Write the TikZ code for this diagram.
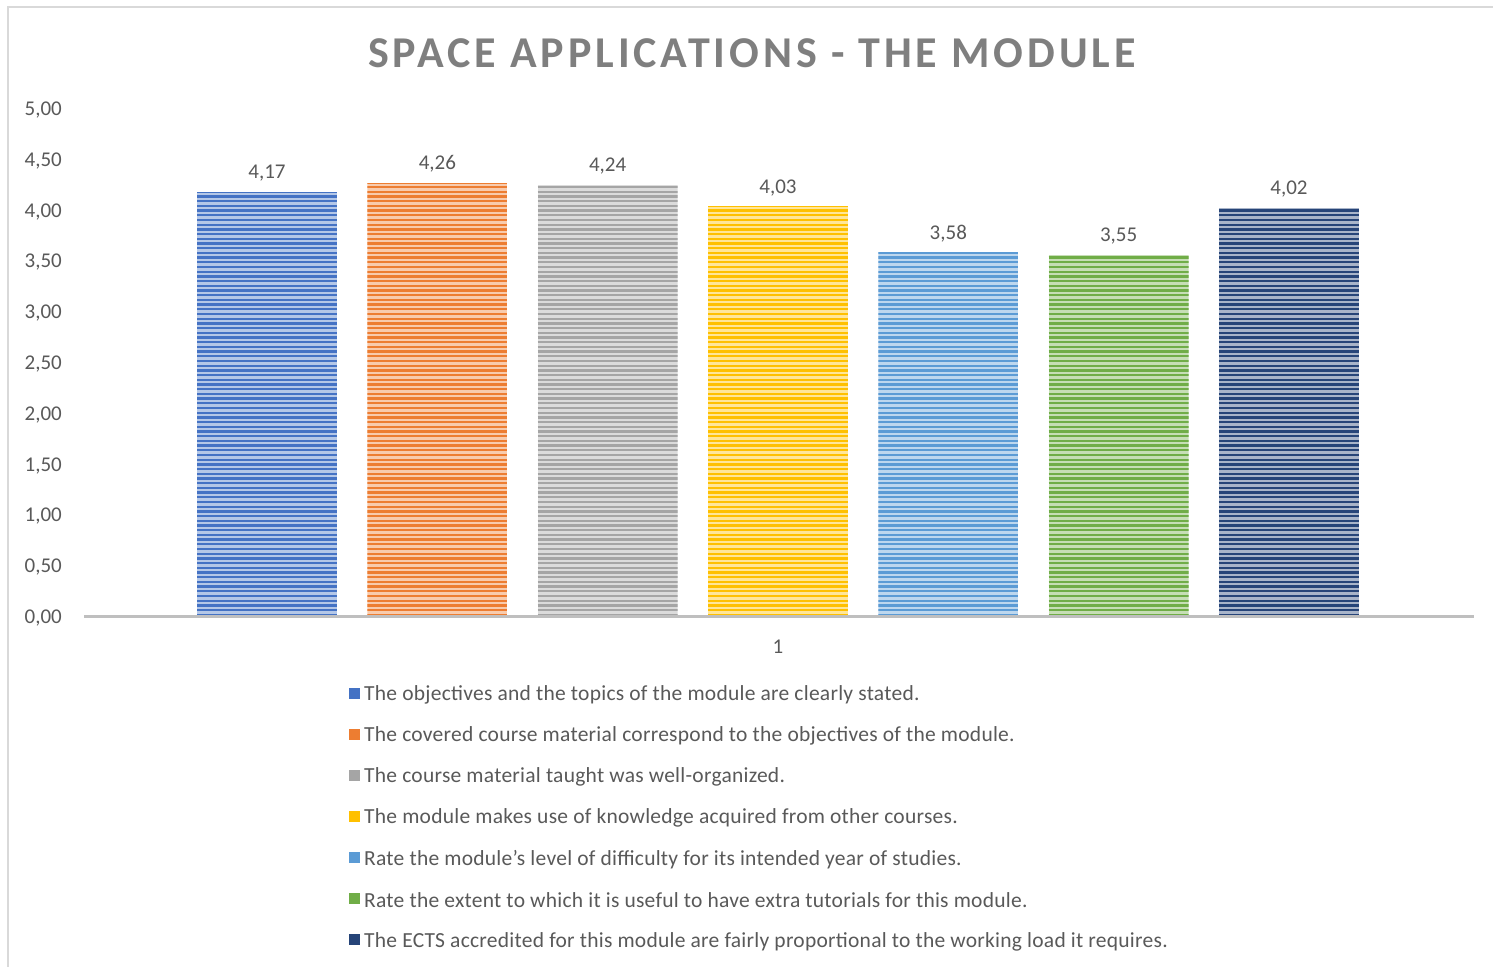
\documentclass[tikz,border=0pt]{standalone}
\usepackage{fontspec}
\setmainfont{Carlito}
\newfontfamily\titlefont[LetterSpace=9]{Carlito}
\newfontfamily\legfont[LetterSpace=1.2]{Carlito}
\definecolor{cA}{HTML}{4472C4}
\definecolor{cB}{HTML}{ED7D31}
\definecolor{cC}{HTML}{A5A5A5}
\definecolor{cD}{HTML}{FFC000}
\definecolor{cE}{HTML}{5B9BD5}
\definecolor{cF}{HTML}{70AD47}
\definecolor{cG}{HTML}{264478}
\definecolor{txtgray}{HTML}{595959}
\definecolor{titlegray}{HTML}{7F7F7F}
\definecolor{axisgray}{HTML}{BFBFBF}
\definecolor{framegray}{HTML}{D9D9D9}
\tikzset{
  ticklabel/.style={anchor=east, text=txtgray, font=\fontsize{21}{24}\selectfont, inner sep=0pt},
  vallabel/.style={text=txtgray, font=\fontsize{21}{24}\selectfont, inner sep=0pt},
  legtext/.style={anchor=west, text=txtgray, font=\legfont\fontsize{21.5}{24}\selectfont, inner sep=0pt},
  legkey/.style={minimum width=11pt, minimum height=11pt, inner sep=0pt, draw=none},
}
\begin{document}
\begin{tikzpicture}[x=1pt,y=-1pt]
\useasboundingbox (0,0) rectangle (1493,966);
\fill[white] (0,0) rectangle (1493,966);
\draw[framegray, line width=2pt] (8,968) -- (8,7) -- (1495,7);
\node[text=titlegray, inner sep=0pt] (title) at (752,53) {\titlefont\bfseries\fontsize{44}{50}\selectfont SPACE APPLICATIONS - THE MODULE};
% y axis labels
\foreach \v/\lab [count=\k] in {0/{0,00},0.5/{0,50},1/{1,00},1.5/{1,50},2/{2,00},2.5/{2,50},3/{3,00},3.5/{3,50},4/{4,00},4.5/{4,50},5/{5,00}}{
  \node[ticklabel] (tick\k) at (62,{618-\v*101.6}) {\lab};
}
% bars
\foreach \i/\val/\lab/\col in {1/4.17/{4,17}/cA,2/4.26/{4,26}/cB,3/4.24/{4,24}/cC,4/4.03/{4,03}/cD,5/3.58/{3,58}/cE,6/3.55/{3,55}/cF,7/4.02/{4,02}/cG}{
  \pgfmathsetmacro\xl{197+(\i-1)*170.33}
  \pgfmathsetmacro\xr{\xl+140}
  \pgfmathsetmacro\yt{616-\val*101.6}
  \pgfmathsetmacro\ns{int(floor((616-\yt)/4.7))}
  \begin{scope}
    \clip (\xl,616) rectangle (\xr,\yt);
    \fill[\col!40] (\xl,616) rectangle (\xr,\yt);
    \foreach \s in {0,...,\ns}{
      \draw[\col, line width=2.3pt] (\xl,{616-1.2-\s*4.7}) -- (\xr,{616-1.2-\s*4.7});
    }
  \end{scope}
  \path (\xl,616) rectangle (\xr,\yt) coordinate (bar\i);
  \node[vallabel] (val\i) at ({\xl+70},{\yt-19}) {\lab};
}
\draw[axisgray, line width=3pt] (84,616) -- (1474,616);
\node[vallabel] (cat) at (778,647) {1};
% legend
\foreach \i/\col/\txt in {
  1/cA/{The objectives and the topics of the module are clearly stated.},
  2/cB/{The covered course material correspond to the objectives of the module.},
  3/cC/{The course material taught was well-organized.},
  4/cD/{The module makes use of knowledge acquired from other courses.},
  5/cE/{Rate the module’s level of difficulty for its intended year of studies.},
  6/cF/{Rate the extent to which it is useful to have extra tutorials for this module.},
  7/cG/{The ECTS accredited for this module are fairly proportional to the working load it requires.}}{
  \pgfmathsetmacro\yy{693+(\i-1)*41.1}
  \node[legkey, fill=\col] (key\i) at (354.5,\yy) {};
  \node[legtext] (leg\i) at (364,{\yy+2}) {\txt};
}
\end{tikzpicture}
\end{document}
